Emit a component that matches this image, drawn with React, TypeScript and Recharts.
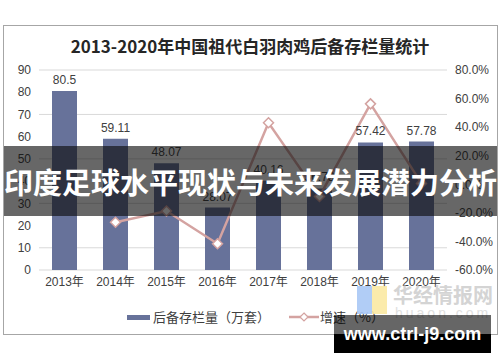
import React from 'react';
import {
  ComposedChart, Bar, Line, XAxis, YAxis, CartesianGrid, LabelList
} from 'recharts';

const years = ['2013年', '2014年', '2015年', '2016年', '2017年', '2018年', '2019年', '2020年'];
const stock = [80.5, 59.11, 48.07, 28.07, 40.16, 36.73, 57.42, 57.78];
const growth = [null, -26.6, -18.7, -41.6, 43.1, -8.5, 56.3, 0.6];
const leftTicks = [0, 10, 20, 30, 40, 50, 60, 70, 80, 90];
const rightTicks = [-60, -40, -20, 0, 20, 40, 60, 80];
const edgeTicks = [0, 1, 2, 3, 4, 5, 6, 7, 8];

const data = years.map((year, i) => ({ year, stock: stock[i], growth: growth[i] }));

const BAR = '#67729a';
const LINE = '#d4a3a1';
const FONT = '"Liberation Sans", "Noto Sans CJK SC", sans-serif';
const CJK = '"Noto Sans CJK SC", sans-serif';

const Diamond = (props: any) => {
  const { cx, cy, value } = props;
  if (value == null || cx == null || cy == null) return null;
  const r = 5;
  return (
    <polygon
      points={`${cx},${cy - r} ${cx + r},${cy} ${cx},${cy + r} ${cx - r},${cy}`}
      fill="#fff"
      stroke={LINE}
      strokeWidth={1.5}
    />
  );
};

const App = () => {
  return (
    <div style={{ position: 'absolute', left: 0, top: 0, width: 500, height: 362, background: '#fff', overflow: 'hidden' }}>
      <div style={{ position: 'absolute', left: 3, top: 25, width: 493, height: 308, border: '1px solid #a6a6a6' }} />
      <div style={{
        position: 'absolute', left: 0, top: 33, width: 500, textAlign: 'center',
        fontFamily: CJK, fontWeight: 700, fontSize: 17, color: '#262626'
      }}>
        2013-2020年中国祖代白羽肉鸡后备存栏量统计
      </div>

      <div style={{ position: 'absolute', left: 0, top: 0 }}>
        <ComposedChart width={500} height={362} data={data} margin={{ top: 70, right: 8, left: 9, bottom: 62 }}>
          <CartesianGrid yAxisId="left" vertical={false} stroke="#d9d9d9" />
          <XAxis
            xAxisId="edge" type="number" domain={[0, 8]} ticks={edgeTicks} height={0}
            tickFormatter={() => ''} tickSize={5} stroke="#bfbfbf"
          />
          <XAxis
            dataKey="year" height={30} axisLine={false} tickLine={false} tickSize={0} tickMargin={7}
            tick={{ fontSize: 12, fill: '#404040', fontFamily: FONT }} interval={0}
          />
          <YAxis
            yAxisId="left" width={30} domain={[0, 90]} ticks={leftTicks}
            axisLine={false} tickLine={false} tickSize={0} tickMargin={8}
            tick={{ fontSize: 12, fill: '#404040', fontFamily: FONT }}
          />
          <YAxis
            yAxisId="right" orientation="right" width={45} domain={[-60, 80]} ticks={rightTicks}
            axisLine={false} tickLine={false} tickSize={0} tickMargin={8}
            tickFormatter={(v: number) => `${v.toFixed(1)}%`}
            tick={{ fontSize: 12, fill: '#404040', fontFamily: FONT }}
          />
          <Bar yAxisId="left" dataKey="stock" fill={BAR} barSize={25} isAnimationActive={false}>
            <LabelList dataKey="stock" position="top" offset={7} style={{ fontSize: 12, fill: '#404040', fontFamily: FONT }} />
          </Bar>
          <Line
            yAxisId="right" dataKey="growth" stroke={LINE} strokeWidth={2.5}
            dot={<Diamond />} activeDot={false} connectNulls={false} isAnimationActive={false}
          />
        </ComposedChart>
      </div>

      {/* legend */}
      <div style={{ position: 'absolute', left: 127, top: 315, width: 23, height: 5, background: BAR }} />
      <div style={{ position: 'absolute', left: 153, top: 308, fontFamily: CJK, fontSize: 13, color: '#404040', lineHeight: '18px' }}>
        后备存栏量（万套）
      </div>
      <svg style={{ position: 'absolute', left: 288, top: 310 }} width={32} height={14}>
        <line x1={1} y1={7} x2={31} y2={7} stroke={LINE} strokeWidth={2.5} />
        <polygon points="16,3 20,7 16,11 12,7" fill="#fff" stroke={LINE} strokeWidth={1.2} />
      </svg>
      <div style={{ position: 'absolute', left: 320, top: 308, fontFamily: CJK, fontSize: 13, color: '#404040', lineHeight: '18px' }}>
        增速（%）
      </div>

      {/* watermark */}
      <div style={{ position: 'absolute', left: 357, top: 286, width: 15, height: 28, background: '#a9c8f5', opacity: 0.9 }} />
      <div style={{ position: 'absolute', left: 372, top: 286, width: 15, height: 28, background: '#fbe9a2', opacity: 0.9 }} />
      <div style={{ position: 'absolute', left: 393, top: 282, fontFamily: CJK, fontWeight: 700, fontSize: 20, color: '#d4d4d4', lineHeight: '26px' }}>
        华经情报网
      </div>
      <div style={{ position: 'absolute', left: 395, top: 305, fontFamily: FONT, fontSize: 14, color: '#e0e0e0', letterSpacing: 3 }}>
        huaon.com
      </div>

      {/* overlay banner */}
      <div style={{
        position: 'absolute', left: 4, top: 146, width: 493, height: 70, background: 'rgba(10,10,10,0.62)',
        display: 'flex', alignItems: 'center', justifyContent: 'center'
      }}>
        <span style={{ fontFamily: CJK, fontWeight: 700, fontSize: 29, color: '#fff', whiteSpace: 'nowrap' }}>
          印度足球水平现状与未来发展潜力分析
        </span>
      </div>

      <div style={{
        position: 'absolute', left: 334, top: 315, width: 157, height: 38,
        background: 'linear-gradient(rgba(0,0,0,0.6) 0%, rgba(0,0,0,0.6) 50%, #000 50%, #000 100%)',
        display: 'flex', alignItems: 'center', justifyContent: 'center'
      }}>
        <span style={{ fontFamily: FONT, fontWeight: 700, fontSize: 18, color: '#fff' }}>www.ctrl-j9.com</span>
      </div>
    </div>
  );
};

export default App;
